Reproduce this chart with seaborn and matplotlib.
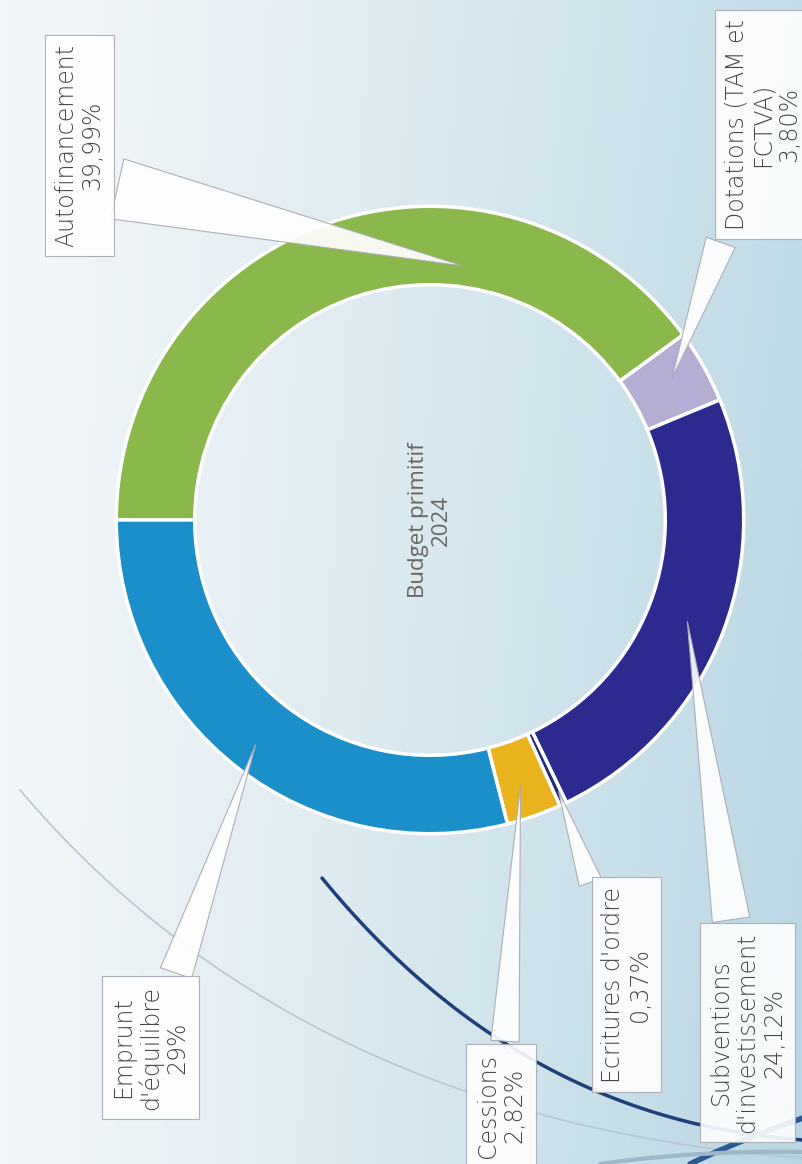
import numpy as np
import matplotlib
matplotlib.use("Agg")
import matplotlib.pyplot as plt
import seaborn as sns

# données
categories = ["Autofinancement", "Dotations (TAM et\nFCTVA)", "Subventions\nd'investissement",
              "Ecritures d'ordre", "Cessions", "Emprunt\nd'équilibre"]
pct_labels = ["39,99%", "3,80%", "24,12%", "0,37%", "2,82%", "29%"]
values = [39.99, 3.80, 24.12, 0.37, 2.82, 29.0]
colors = ["#8bb84b", "#b5aed4", "#2c2a8f", "#232a7c", "#e9b31d", "#1b8fc9"]
center_text = "Budget primitif\n2024"

# mise en page des étiquettes (fraction de figure), pointes (angle, rayon), flèches
label_pos = [(0.099, 0.875), (0.950, 0.893), (0.931, 0.113), (0.780, 0.154), (0.624, 0.050), (0.187, 0.100)]
tip_pos = [(82, 0.80), (30, 0.87), (-21, 0.86), (-64.6, 0.93), (-71, 0.87), (-128, 0.88)]
tail_widths = [2.6, 1.3, 1.6, 1.0, 1.2, 1.4]
rel_pos = [(1.0, 0.30), None, None, None, None, None]

W, H = 803, 1164
sns.set_theme(style="white")
plt.rcParams["font.family"] = ["DejaVu Sans"]

fig = plt.figure(figsize=(W / 100, H / 100), dpi=100)

# fond dégradé
bg = fig.add_axes([0, 0, 1, 1])
xx, yy = np.meshgrid(np.linspace(0, 1, 200), np.linspace(0, 1, 300))
t = np.clip(0.8 * xx ** 1.2 + 0.2 * yy * xx, 0, 1)
left = np.array([0.95, 0.965, 0.975])
right = np.array([0.72, 0.84, 0.89])
img = left[None, None, :] * (1 - t[..., None]) + right[None, None, :] * t[..., None]
bg.imshow(img, extent=[0, W, 0, H], origin="upper", aspect="auto")

# courbes décoratives
def bez(p0, p1, p2, n=100):
    s = np.linspace(0, 1, n)[:, None]
    return (1 - s) ** 2 * np.array(p0) + 2 * (1 - s) * s * np.array(p1) + s ** 2 * np.array(p2)

c = bez((20, H - 790), (300, H - 1120), (803, H - 1158))
bg.plot(c[:, 0], c[:, 1], color="#b8c6d0", lw=1.2)
c = bez((322, H - 878), (520, H - 1120), (803, H - 1140))
bg.plot(c[:, 0], c[:, 1], color="#1d3f7a", lw=2.5)
c = bez((690, H - 1164), (740, H - 1140), (803, H - 1118))
bg.plot(c[:, 0], c[:, 1], color="#2a5a90", lw=4)
c = bez((600, H - 1164), (700, H - 1150), (803, H - 1152))
bg.plot(c[:, 0], c[:, 1], color="#9fb8c8", lw=3)
bg.set_xlim(0, W)
bg.set_ylim(0, H)
bg.axis("off")

# anneau
cx, cy, r = 430, 520, 320
ax = fig.add_axes([(cx - r) / W, (H - cy - r) / H, 2 * r / W, 2 * r / H])
ax.pie(values, colors=colors, startangle=180, counterclock=False, radius=1,
       wedgeprops=dict(width=0.25, edgecolor="white", linewidth=2.5))
ax.set_xlim(-1.02, 1.02)
ax.set_ylim(-1.02, 1.02)
ax.set_aspect("equal")
ax.axis("off")

ax.text(0, 0, center_text, rotation=90, ha="center", va="center",
        multialignment="center", fontsize=16, color="#666666", fontweight="normal",
        linespacing=1.1, family=["Open Sans", "DejaVu Sans"])

for cat, pct, (tx, ty), (ang, rr), tw, rp in zip(categories, pct_labels, label_pos, tip_pos,
                                                  tail_widths, rel_pos):
    a = np.deg2rad(ang)
    arrow = dict(arrowstyle=f"wedge,tail_width={tw},shrink_factor=0.5",
                 fc="white", ec="#a9a9b4", lw=0.8, alpha=0.92)
    if rp is not None:
        arrow["relpos"] = rp
    ax.annotate(cat + "\n" + pct, xy=(rr * np.cos(a) * 1.02, rr * np.sin(a) * 1.02),
                xycoords="data", textcoords="figure fraction", xytext=(tx, ty),
                rotation=90, ha="center", va="center", multialignment="center",
                fontsize=17, color="#444444", linespacing=1.12, fontweight="light",
                bbox=dict(boxstyle="square,pad=0.4", fc="white", ec="#a9a9b4", lw=0.8, alpha=0.9),
                arrowprops=arrow)

fig.savefig("out.png", dpi=100)
